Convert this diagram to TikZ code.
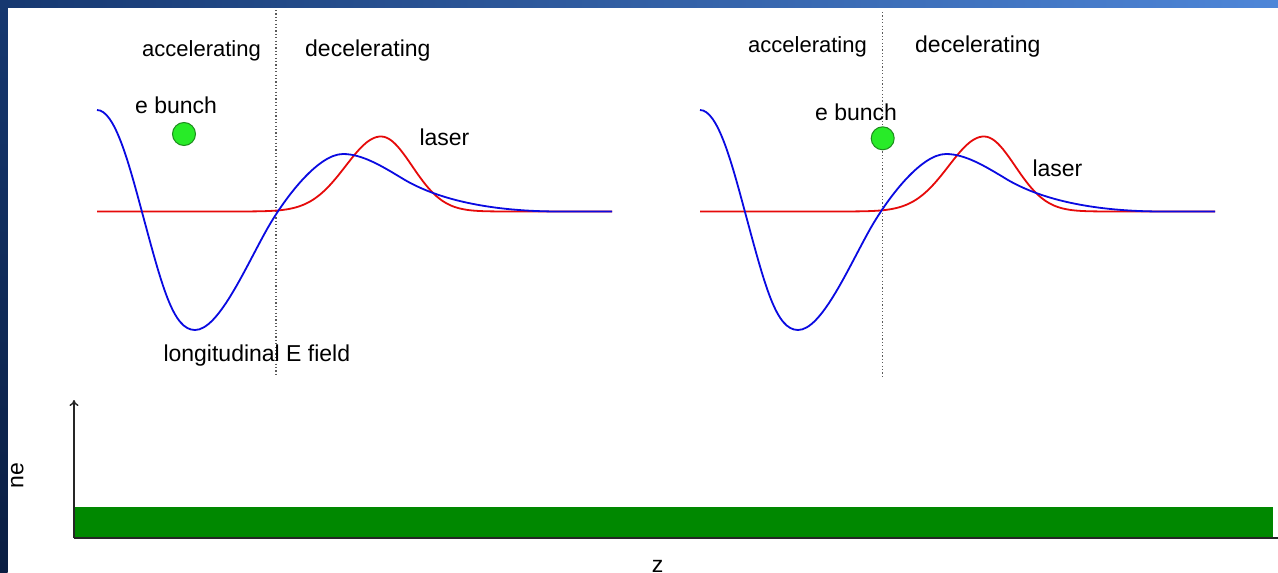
\documentclass[tikz,border=0pt]{standalone}
\usepackage{fontspec}
\setmainfont{Liberation Sans}
\usetikzlibrary{arrows.meta}
\definecolor{efblue}{RGB}{10,10,225}
\definecolor{lasred}{RGB}{230,10,10}
\definecolor{bunchfill}{RGB}{40,235,40}
\definecolor{bunchdraw}{RGB}{30,140,30}
\definecolor{plasma}{RGB}{0,136,0}
\definecolor{barA}{RGB}{22,56,112}
\definecolor{barB}{RGB}{78,134,216}
\definecolor{barC}{RGB}{10,30,66}
\definecolor{dotgray}{RGB}{90,90,90}
\tikzset{
  lbl/.style={inner sep=0pt, anchor=base west, font=\fontsize{23}{27}\selectfont},
  lblsm/.style={inner sep=0pt, anchor=base west, font=\fontsize{22}{26}\selectfont},
  efield/.style={draw=efblue, line width=1.8pt, line join=round},
  laserpulse/.style={draw=lasred, line width=1.8pt, line join=round},
  divider/.style={draw=dotgray, line width=1.2pt, dash pattern=on 1.2pt off 2.2pt},
  bunch/.style={circle, fill=bunchfill, draw=bunchdraw, line width=1pt, minimum size=23pt, inner sep=0pt},
  axisline/.style={draw=black!85, line width=1.4pt}
}
\newcommand{\efieldcurve}{(97,110) .. controls (115,110) and (129,164) .. (142,212)
  .. controls (162,286) and (173,330) .. (195,330)
  .. controls (218,330) and (244,270.6) .. (266,231)
  .. controls (284,198.6) and (318,154) .. (343,154)
  .. controls (362,154) and (382,166.2) .. (400,177)
  .. controls (430,196) and (480,211.5) .. (560,211.5)
  -- (612,211.5)}
\newcommand{\lasercurve}{plot[domain=97:612, samples=200] (\x, {211.5-75*exp(-1*pow((\x-381)/(\x<381 ? 50 : 44),2))})}
\begin{document}
\begin{tikzpicture}[x=1pt,y=-1pt]
\useasboundingbox (0,0) rectangle (1278,573);
\fill[white] (0,0) rectangle (1278,573);

% left panel
\draw[divider] (276,10) -- (276,377);
\draw[laserpulse] \lasercurve;
\draw[efield] \efieldcurve;
\node[bunch] (b1) at (184,134) {};
\node[lblsm] (acc1) at (142,56.7) {accelerating};
\node[lbl] (dec1) at (305,56.7) {decelerating};
\node[lbl] (eb1) at (135,113.3) {e bunch};
\node[lbl] (las1) at (419.3,145) {laser};
\node[lbl] (lef) at (163.3,361) {longitudinal E field};

% right panel
\draw[divider] (882.5,12) -- (882.5,378);
\begin{scope}[xshift=603]
\draw[laserpulse] \lasercurve;
\draw[efield] \efieldcurve;
\end{scope}
\node[bunch] (b2) at (882.7,138.3) {};
\node[lblsm] (acc2) at (748,52.5) {accelerating};
\node[lbl] (dec2) at (915,52.5) {decelerating};
\node[lbl] (eb2) at (815,120.7) {e bunch};
\node[lbl] (las2) at (1032.3,176.7) {laser};

% density profile
\fill[plasma] (74,507) rectangle (1273,538);
\coordinate (orig) at (74,538);
\coordinate (ytip) at (74,400);
\coordinate (xend) at (1278,538);
\draw[axisline, -{To[length=6pt,width=9pt]}] (orig) -- (ytip);
\draw[axisline] (orig) -- (xend);
\node[lbl, rotate=90] (ne) at (23.3,488.3) {ne};
\node[lbl] (zlab) at (651.7,572) {z};

% slide frame
\shade[left color=barA, right color=barB] (0,0) rectangle (1278,7.5);
\shade[top color=barA, bottom color=barC] (0,0) rectangle (7.5,573);
\end{tikzpicture}
\end{document}
